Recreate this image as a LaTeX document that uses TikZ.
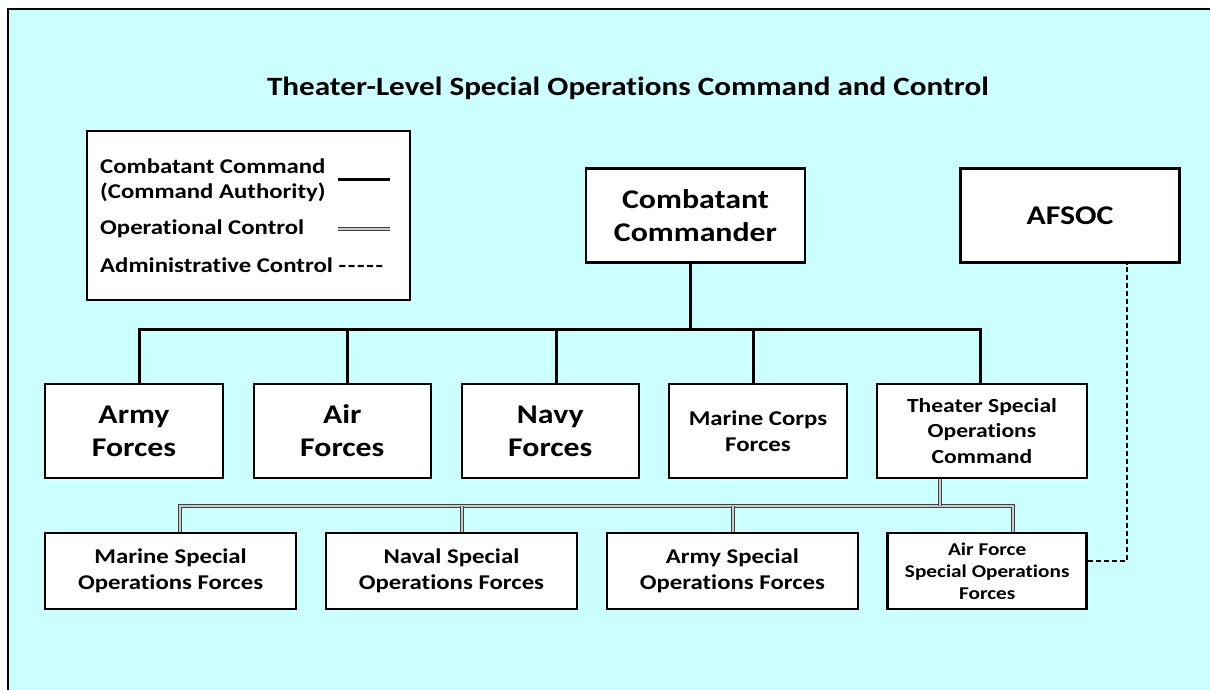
\documentclass[tikz,border=0pt]{standalone}
\usepackage{fontspec}
\setmainfont{Carlito}[FakeStretch=1.18, Ligatures={NoCommon}]
\definecolor{bgc}{RGB}{204,255,255}
\tikzset{
  box/.style={draw=black, line width=2.5pt, fill=white, inner sep=0pt, align=center},
  bigtxt/.style={font=\fontsize{27}{33}\selectfont\bfseries},
  midtxt/.style={font=\fontsize{21}{26.5}\selectfont\bfseries},
  smalltxt/.style={font=\fontsize{18}{22}\selectfont\bfseries},
  legtxt/.style={font=\fontsize{21}{26}\selectfont\bfseries, inner sep=0pt, anchor=west},
  cmdline/.style={draw=black, line width=3pt},
  opcon/.style={draw=black!75, double=black!20, line width=1pt, double distance=1.6pt},
  admin/.style={draw=black, line width=2pt, dash pattern=on 5pt off 3pt},
}
\begin{document}
\begin{tikzpicture}[x=1pt,y=-1pt]
\useasboundingbox (0,0) rectangle (1210,689);
\fill[white] (0,0) rectangle (1210,689);
\draw[fill=bgc, line width=2pt] (8,9) rectangle (1230,705);

\node[font=\fontsize{26.4}{30}\selectfont\bfseries] (title) at (628,88) {Theater-Level Special Operations Command and Control};

% legend
\node[draw=black, line width=2pt, fill=white, minimum width=323pt, minimum height=169pt, inner sep=0pt] (legend) at (248.5,215.5) {};
\node[legtxt] (l1) at (100,166.5) {Combatant Command};
\node[legtxt] (l2) at (100,192.5) {(Command Authority)};
\node[legtxt] (l3) at (100,228.5) {Operational Control};
\node[legtxt] (l4) at (100,265.5) {Administrative Control {\addfontfeature{LetterSpace=8}-{}-{}-{}-{}-}};
\coordinate (s1) at (338,179);
\coordinate (s2) at (390,179);
\coordinate (d1) at (338,229);
\coordinate (d2) at (390,229);
\draw[cmdline] (s1) -- (s2);
\draw[opcon] (d1) -- (d2);

% top
\node[box,bigtxt,minimum width=219pt,minimum height=94pt] (cc) at (695.5,215.5) {Combatant\\Commander};
\node[box,bigtxt,minimum width=219pt,minimum height=94pt] (afsoc) at (1070,215.5) {AFSOC};

% row 2
\node[box,bigtxt,minimum width=178pt,minimum height=94pt] (army) at (134,431) {Army\\Forces};
\node[box,bigtxt,minimum width=177pt,minimum height=94pt] (air) at (342.3,431) {Air\\Forces};
\node[box,bigtxt,minimum width=177pt,minimum height=94pt] (navy) at (550.3,431) {Navy\\Forces};
\node[box,midtxt,minimum width=178pt,minimum height=94pt] (mcf) at (758,431) {Marine Corps\\Forces};
\node[box,midtxt,font=\fontsize{20}{25.7}\selectfont\bfseries,minimum width=210pt,minimum height=94pt] (tsoc) at (982,431) {Theater Special\\Operations\\Command};

% row 3
\node[box,midtxt,minimum width=251pt,minimum height=76pt] (msof) at (170.6,571) {Marine Special\\Operations Forces};
\node[box,midtxt,minimum width=251pt,minimum height=76pt] (nsof) at (451.5,571) {Naval Special\\Operations Forces};
\node[box,midtxt,minimum width=251pt,minimum height=76pt] (asof) at (732.4,571) {Army Special\\Operations Forces};
\node[box,smalltxt,minimum width=199pt,minimum height=76pt] (afsof) at (987.2,571) {Air Force\\Special Operations\\Forces};

% command authority bus
\coordinate (cbus) at (690,329);
\draw[cmdline] ([xshift=-5.5pt]cc.south) -- (cbus);
\draw[cmdline] ([xshift=5.6pt]army.north) |- (cbus) -| ([xshift=-2pt]tsoc.north);
\draw[cmdline] ([xshift=5.5pt]air.north) -- ([xshift=5.5pt]air.north |- cbus);
\draw[cmdline] ([xshift=5.7pt]navy.north) -- ([xshift=5.7pt]navy.north |- cbus);
\draw[cmdline] ([xshift=-5pt]mcf.north) -- ([xshift=-5pt]mcf.north |- cbus);

% operational control bus
\coordinate (obus) at (940,506);
\draw[opcon] ([xshift=9.4pt]msof.north) |- (obus) -| ([xshift=25.8pt]afsof.north);
\draw[opcon] ([xshift=-42pt]tsoc.south) -- (obus);
\draw[opcon] ([xshift=10.5pt]nsof.north) -- ([xshift=10.5pt]nsof.north |- obus);
\draw[opcon] ([xshift=0.5pt]asof.north) -- ([xshift=0.5pt]asof.north |- obus);

% administrative control
\draw[admin] ([yshift=10pt]afsof.east) -| ([xshift=57pt]afsoc.south);
\end{tikzpicture}
\end{document}
